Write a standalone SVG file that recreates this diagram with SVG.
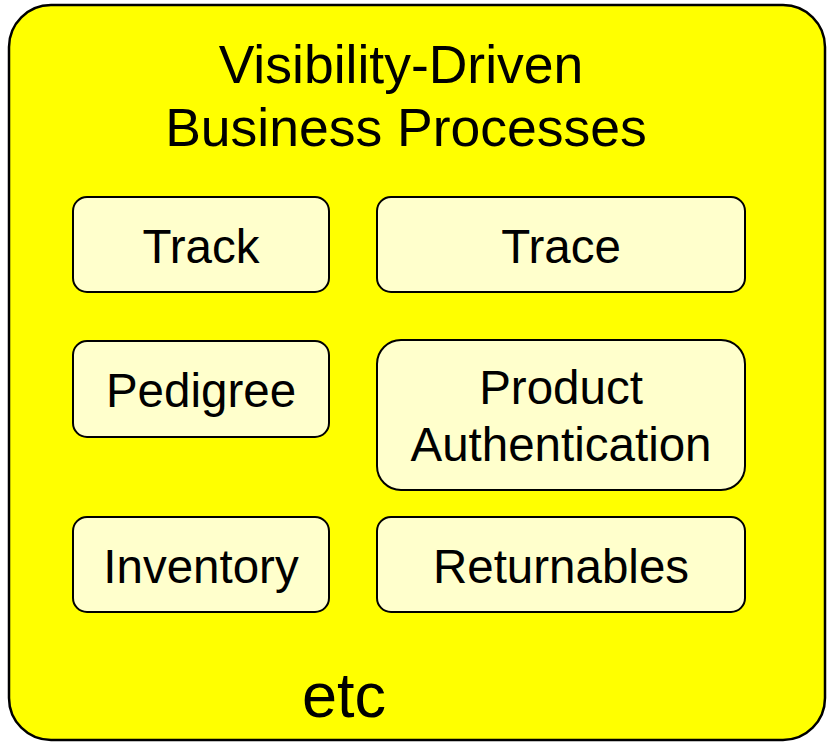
<svg xmlns="http://www.w3.org/2000/svg" width="827" height="743" viewBox="0 0 827 743">
<style>
.box{fill:#FFFFCC;stroke:#000;stroke-width:2}
.t{font-family:"Liberation Sans",Arial,sans-serif;font-size:47.5px;text-anchor:middle;fill:#000}
.title{font-family:"Liberation Sans",Arial,sans-serif;font-size:53.5px;text-anchor:middle;fill:#000}
</style>
<rect width="827" height="743" fill="#fff"/>
<g id="container">
<rect x="9" y="5" width="816" height="735" rx="42" ry="42" fill="#FFFF00" stroke="#000" stroke-width="2.5"/>
<text class="title" x="401" y="83">Visibility-Driven</text>
<text class="title" x="406" y="146">Business Processes</text>
<text x="344" y="717" font-family="Liberation Sans,Arial,sans-serif" font-size="63" text-anchor="middle">etc</text>
</g>
<g id="track"><rect class="box" x="73" y="197" width="256" height="95" rx="14"/><text class="t" x="201" y="263">Track</text></g>
<g id="trace"><rect class="box" x="377" y="197" width="368" height="95" rx="14"/><text class="t" x="561" y="263">Trace</text></g>
<g id="pedigree"><rect class="box" x="73" y="341" width="256" height="96" rx="14"/><text class="t" x="201" y="407">Pedigree</text></g>
<g id="product-auth"><rect class="box" x="377" y="340" width="368" height="150" rx="24"/><text class="t" x="561" y="404">Product</text><text class="t" x="561" y="461">Authentication</text></g>
<g id="inventory"><rect class="box" x="73" y="517" width="256" height="95" rx="14"/><text class="t" x="201" y="583">Inventory</text></g>
<g id="returnables"><rect class="box" x="377" y="517" width="368" height="95" rx="14"/><text class="t" x="561" y="583">Returnables</text></g>
<g id="connectors"></g>
</svg>
